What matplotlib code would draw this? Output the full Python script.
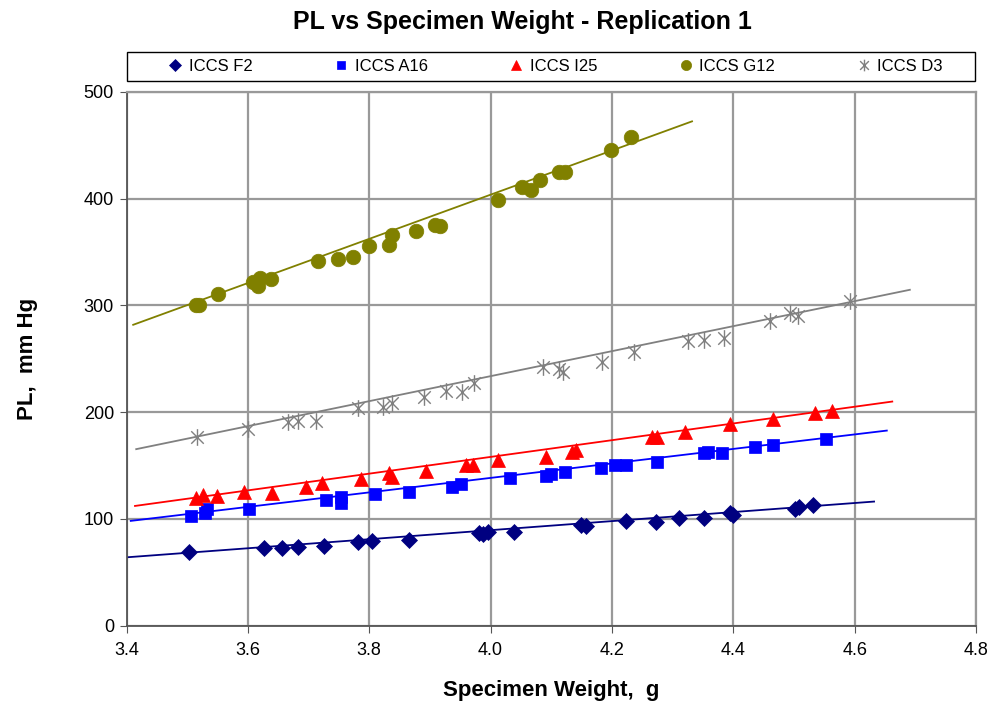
import numpy as np
import matplotlib

matplotlib.use("Agg")
import matplotlib.pyplot as plt
from matplotlib.path import Path
from matplotlib.patches import Rectangle

plt.rcParams["font.family"] = ["Liberation Sans", "DejaVu Sans"]

# Specimen weight (g) and PL (mm Hg) per specimen type
f2_x = [3.503, 3.627, 3.656, 3.682, 3.726, 3.781, 3.805, 3.866, 3.981, 3.987, 3.996,
        4.038, 4.149, 4.158, 4.223, 4.272, 4.310, 4.352, 4.395, 4.400, 4.502, 4.508, 4.532]
f2_y = [68.8, 73.1, 73.1, 74.1, 75.0, 78.2, 79.4, 80.3, 87.2, 86.0, 88.1,
        88.1, 94.4, 93.5, 98.4, 96.9, 101.0, 101.2, 105.4, 103.8, 109.5, 111.5, 113.2]

a16_x = [3.506, 3.529, 3.532, 3.602, 3.728, 3.753, 3.753, 3.809, 3.866, 3.937, 3.952,
         4.032, 4.091, 4.100, 4.122, 4.182, 4.205, 4.223, 4.274, 4.351, 4.359, 4.381,
         4.435, 4.466, 4.553]
a16_y = [102.8, 105.4, 109.1, 109.1, 117.8, 120.9, 115.3, 123.2, 125.5, 130.3, 132.5,
         138.2, 140.6, 142.2, 144.4, 147.6, 150.6, 150.6, 153.7, 161.6, 162.5, 161.6,
         167.2, 169.4, 174.7]

i25_x = [3.514, 3.526, 3.549, 3.593, 3.639, 3.695, 3.723, 3.786, 3.833, 3.838, 3.893,
         3.959, 3.971, 4.012, 4.092, 4.135, 4.141, 4.266, 4.275, 4.321, 4.395, 4.465,
         4.534, 4.562]
i25_y = [120.0, 122.5, 121.6, 125.6, 124.7, 130.3, 133.5, 137.5, 142.9, 139.1, 145.0,
         150.6, 150.6, 155.3, 158.4, 163.1, 164.7, 176.6, 177.2, 181.6, 188.8, 193.5,
         199.1, 201.6]

g12_x = [3.514, 3.520, 3.550, 3.608, 3.620, 3.616, 3.638, 3.715, 3.748, 3.774, 3.800,
         3.833, 3.837, 3.877, 3.908, 3.916, 4.013, 4.052, 4.066, 4.081, 4.112, 4.122,
         4.199, 4.232]
g12_y = [300.6, 300.0, 310.7, 321.6, 326.0, 317.8, 324.7, 342.0, 343.5, 345.4, 355.3,
         356.9, 366.3, 369.4, 375.6, 374.2, 399.0, 410.6, 408.5, 417.2, 424.7, 424.7,
         446.0, 457.5]

d3_x = [3.517, 3.600, 3.666, 3.682, 3.712, 3.782, 3.822, 3.837, 3.890, 3.926, 3.953,
        3.972, 4.087, 4.112, 4.119, 4.184, 4.236, 4.326, 4.351, 4.384, 4.461, 4.494,
        4.507, 4.592]
d3_y = [177.2, 184.0, 191.3, 192.2, 192.2, 204.4, 205.3, 209.0, 214.1, 220.3, 219.4,
        227.2, 241.9, 240.7, 237.5, 246.9, 256.0, 266.3, 267.2, 270.0, 285.6, 293.4,
        290.3, 303.8]

# linear trendline end points (x, then y) as drawn in the chart
trend_f2 = ([3.401, 4.632], [64.1, 116.3])
trend_a16 = ([3.407, 4.653], [98.2, 182.8])
trend_i25 = ([3.414, 4.662], [112.2, 210.0])
trend_g12 = ([3.411, 4.332], [281.9, 472.5])
trend_d3 = ([3.416, 4.691], [165.4, 314.7])

# Excel-style star: vertical stroke plus an X
star = Path(
    [(0, -1), (0, 1), (-0.75, -0.75), (0.75, 0.75), (-0.75, 0.75), (0.75, -0.75)],
    [Path.MOVETO, Path.LINETO] * 3,
)

series = [
    ("ICCS F2", f2_x, f2_y, trend_f2, "#000080", "D", 8.5),
    ("ICCS A16", a16_x, a16_y, trend_a16, "#0000FF", "s", 8),
    ("ICCS I25", i25_x, i25_y, trend_i25, "#FF0000", "^", 10),
    ("ICCS G12", g12_x, g12_y, trend_g12, "#808000", "o", 10.5),
    ("ICCS D3", d3_x, d3_y, trend_d3, "#808080", star, 12),
]

fig = plt.figure(figsize=(9.94, 7.09), dpi=100)
ax = fig.add_axes([126.5 / 994, 1 - 625.7 / 709, (976 - 126.5) / 994, (625.7 - 92) / 709])

handles = []
for name, xs, ys, (tx, ty), color, marker, ms in series:
    ax.plot(tx, ty, color=color, linewidth=1.3, zorder=2)
    is_star = marker is star
    (h,) = ax.plot(xs, ys, linestyle="none", marker=marker, markersize=ms,
                   color=color, markerfacecolor="none" if is_star else color,
                   markeredgecolor=color, markeredgewidth=1.0 if is_star else 0.5,
                   label=name, zorder=3)
    handles.append(h)

ax.set_xlim(3.4, 4.8)
ax.set_ylim(0, 500)
xt = np.arange(3.4, 4.81, 0.2)
ax.set_xticks(xt)
ax.set_xticklabels([f"{v:.1f}" for v in xt])
ax.set_yticks(range(0, 501, 100))
ax.grid(True, color="#999999", linewidth=1.6)
ax.set_axisbelow(True)
for side in ("top", "right"):
    ax.spines[side].set_color("#999999")
    ax.spines[side].set_linewidth(1.6)
for side in ("left", "bottom"):
    ax.spines[side].set_color("#555555")
    ax.spines[side].set_linewidth(1.3)
ax.tick_params(labelsize=13, length=5, color="#555555")
ax.tick_params(axis="x", pad=7)
ax.tick_params(axis="y", pad=4)

ax.set_xlabel("Specimen Weight,  g", fontsize=16, fontweight="bold", labelpad=15)
ax.set_ylabel("PL,  mm Hg", fontsize=16, fontweight="bold", labelpad=33)
fig.text(522 / 994, 1 - 22 / 709, "PL vs Specimen Weight - Replication 1",
         fontsize=18, fontweight="bold", ha="center", va="center")

# legend frame spans the plot width, entries spread inside it
fig.patches.append(Rectangle((127 / 994, 1 - 81 / 709), (975 - 127) / 994, 29 / 709,
                             transform=fig.transFigure, fill=False,
                             edgecolor="black", linewidth=1.0))
fig.legend(handles=handles, loc="center", ncol=5, mode="expand",
           bbox_to_anchor=(167 / 994, 1 - 81 / 709, (943 - 167) / 994, 29 / 709),
           frameon=False, fontsize=12, handlelength=1.0, handletextpad=0.3,
           borderaxespad=0.0, borderpad=0.0, markerscale=0.7)

fig.savefig("out.png", dpi=100)
